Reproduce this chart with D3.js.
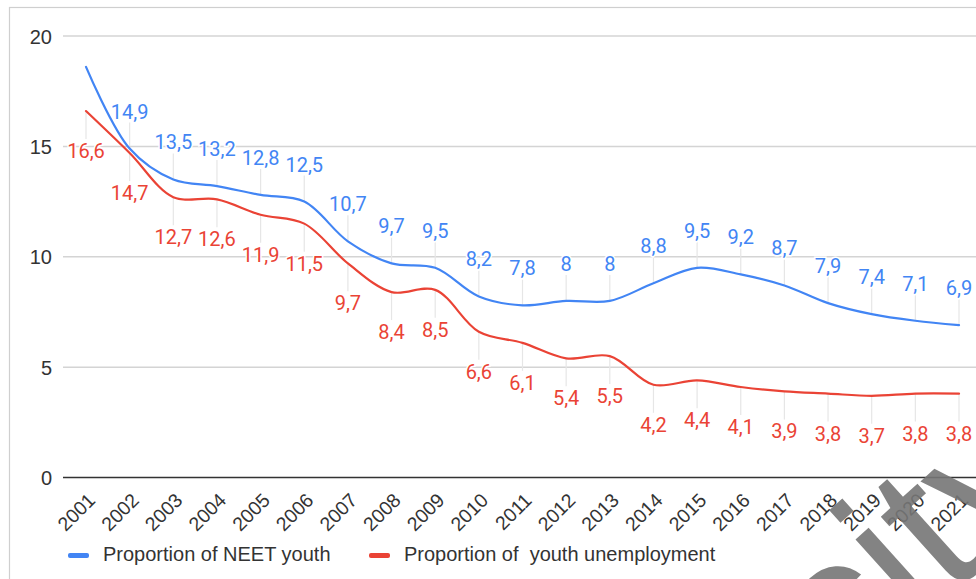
<!DOCTYPE html>
<html>
<head>
<meta charset="utf-8">
<script src="https://cdn.jsdelivr.net/npm/d3@7"></script>
<style>
  html, body { margin: 0; padding: 0; background: #fff; }
  svg { display: block; }
</style>
</head>
<body>
<svg id="chart" width="976" height="579"></svg>
<script>
const years = ["2001","2002","2003","2004","2005","2006","2007","2008","2009","2010","2011","2012","2013","2014","2015","2016","2017","2018","2019","2020","2021"];
const neetValues = [18.6,14.9,13.5,13.2,12.8,12.5,10.7,9.7,9.5,8.2,7.8,8,8,8.8,9.5,9.2,8.7,7.9,7.4,7.1,6.9];
const unemploymentValues = [16.6,14.7,12.7,12.6,11.9,11.5,9.7,8.4,8.5,6.6,6.1,5.4,5.5,4.2,4.4,4.1,3.9,3.8,3.7,3.8,3.8];
const yTicks = [0,5,10,15,20];
const seriesNames = ["Proportion of NEET youth", "Proportion of  youth unemployment"];
const seriesColors = ["#4285F4", "#EA4335"];
const hiddenNeetLabels = ["2001"];

const svg = d3.select("#chart");
const W = 976, H = 579;

const x = d3.scalePoint().domain(years).range([86, 959]);
const y = d3.scaleLinear().domain([0, 20]).range([477.5, 36]);

// frame
svg.append("rect").attr("x", 9.5).attr("y", 7.5).attr("width", 1100).attr("height", 700)
  .attr("fill", "none").attr("stroke", "#cfcfcf").attr("stroke-width", 1.2);

// gridlines
svg.append("g").selectAll("line").data(yTicks.filter(d => d !== 0)).join("line")
  .attr("x1", 63).attr("x2", W + 10)
  .attr("y1", d => y(d)).attr("y2", d => y(d))
  .attr("stroke", "#d4d4d4").attr("stroke-width", 1.5);

// y labels
const yAxis = d3.axisLeft(y).tickValues(yTicks).tickSize(0).tickPadding(0);
const yg = svg.append("g").attr("transform", "translate(52,0)").call(yAxis);
yg.select(".domain").remove();
yg.selectAll("text").attr("font-family", "'Liberation Sans', Arial, sans-serif")
  .attr("font-size", 20).attr("fill", "#333").attr("x", 0).attr("dy", "0.35em");

// baseline
svg.append("line").attr("x1", 63).attr("x2", W + 10).attr("y1", y(0)).attr("y2", y(0))
  .attr("stroke", "#333").attr("stroke-width", 1.5);

// x labels
const xAxis = d3.axisBottom(x).tickSize(0).tickPadding(0);
const xg = svg.append("g").attr("transform", `translate(0,${y(0)})`).call(xAxis);
xg.select(".domain").remove();
xg.selectAll("text")
  .attr("font-family", "'Liberation Sans', Arial, sans-serif")
  .attr("font-size", 19.5).attr("fill", "#333")
  .attr("text-anchor", "end")
  .attr("y", 0).attr("dy", 0)
  .attr("transform", "translate(10,24) rotate(-45)");

const fmt = v => String(v).replace(".", ",");

// leader lines
const leaders = svg.append("g").attr("stroke", "#e6e6e6").attr("stroke-width", 1.2);
years.forEach((yr, i) => {
  if (!hiddenNeetLabels.includes(yr)) {
    leaders.append("line").attr("x1", x(yr)).attr("x2", x(yr))
      .attr("y1", y(neetValues[i]) - 26).attr("y2", y(neetValues[i]));
  }
  leaders.append("line").attr("x1", x(yr)).attr("x2", x(yr))
    .attr("y1", y(unemploymentValues[i])).attr("y2", y(unemploymentValues[i]) + 28);
});

// lines
const line = d3.line().x((d, i) => x(years[i])).y(d => y(d)).curve(d3.curveCatmullRom.alpha(0.5));
[neetValues, unemploymentValues].forEach((vals, k) => {
  svg.append("path").datum(vals).attr("d", line)
    .attr("fill", "none").attr("stroke", seriesColors[k]).attr("stroke-width", 2.2)
    .attr("stroke-linejoin", "round").attr("stroke-linecap", "round");
});

// data labels
const labelFont = "Roboto, 'Noto Sans', sans-serif";
svg.append("g").selectAll("text").data(years.filter(yr => !hiddenNeetLabels.includes(yr))).join("text")
  .attr("x", yr => x(yr)).attr("y", yr => y(neetValues[years.indexOf(yr)]) - 30)
  .attr("text-anchor", "middle").attr("font-family", labelFont).attr("font-size", 20)
  .attr("fill", seriesColors[0]).attr("stroke", "#fff").attr("stroke-width", 3)
  .attr("paint-order", "stroke")
  .text(yr => fmt(neetValues[years.indexOf(yr)]));
svg.append("g").selectAll("text").data(years).join("text")
  .attr("x", yr => x(yr)).attr("y", (yr, i) => y(unemploymentValues[i]) + 47)
  .attr("text-anchor", "middle").attr("font-family", labelFont).attr("font-size", 20)
  .attr("fill", seriesColors[1]).attr("stroke", "#fff").attr("stroke-width", 3)
  .attr("paint-order", "stroke")
  .text((yr, i) => fmt(unemploymentValues[i]));

// legend
const legendX = [68, 369];
seriesNames.forEach((name, k) => {
  svg.append("rect").attr("x", legendX[k]).attr("y", 553).attr("width", 21).attr("height", 5)
    .attr("rx", 2).attr("fill", seriesColors[k]);
  svg.append("text").attr("x", legendX[k] + 35).attr("y", 561)
    .attr("font-family", "'Liberation Sans', Arial, sans-serif").attr("font-size", 20)
    .attr("fill", "#333").style("white-space", "pre").text(name);
});

// watermark
svg.append("text")
  .attr("transform", "translate(842,694) rotate(-42)")
  .attr("font-family", "'Liberation Sans', Arial, sans-serif").attr("font-size", 200)
  .attr("fill", "#767676").attr("fill-opacity", 0.9)
  .text("city");
</script>
</body>
</html>
